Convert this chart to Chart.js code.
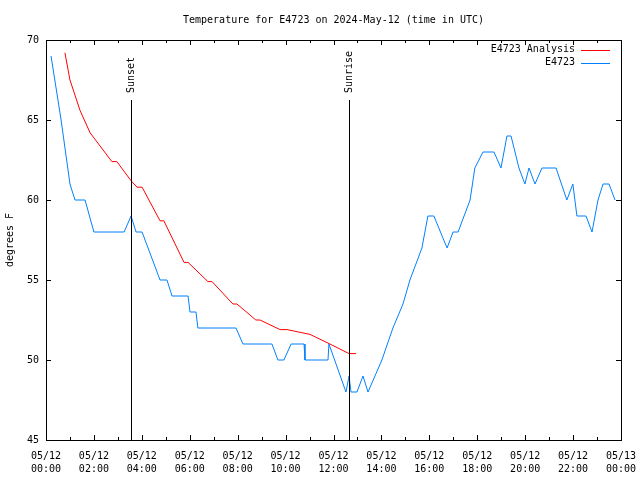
<!DOCTYPE html>
<html>
<head>
<meta charset="utf-8">
<title>Temperature for E4723</title>
<script src="https://cdn.jsdelivr.net/npm/chart.js@4/dist/chart.umd.min.js"></script>
<style>
  html, body { margin: 0; padding: 0; background: #fff; }
  #wrap { width: 640px; height: 480px; }
</style>
</head>
<body>
<div id="wrap"><canvas id="chart" width="640" height="480"></canvas></div>
<script>
/* ---------- data (hours after 05/12 00:00 UTC, degrees F) ---------- */
const obsHours = [0.21, 0.63, 1.00, 1.21, 1.63, 2.00, 3.26, 3.55, 3.76, 4.01,
  4.76, 5.05, 5.26, 5.93, 6.01, 6.26, 6.34, 7.93, 8.22, 9.43,
  9.68, 9.93, 10.23, 10.77, 10.81, 11.77, 11.81, 12.52, 12.65, 12.73,
  12.98, 13.23, 13.44, 14.02, 14.48, 14.90, 15.19, 15.69, 15.94, 16.19,
  16.74, 16.99, 17.20, 17.70, 17.90, 18.24, 18.70, 18.99, 19.24, 19.41,
  19.74, 19.99, 20.16, 20.41, 20.70, 21.29, 21.74, 21.99, 22.16, 22.54,
  22.79, 23.04, 23.25, 23.50, 23.75];
const obsTemps = [69, 65, 61, 60, 60, 58, 58, 59, 58, 58,
  55, 55, 54, 54, 53, 53, 52, 52, 51, 51,
  50, 50, 51, 51, 50, 50, 51, 48, 49, 48,
  48, 49, 48, 50, 52, 53.5, 55, 57, 59, 59,
  57, 58, 58, 60, 62, 63, 63, 62, 64, 64,
  62, 61, 62, 61, 62, 62, 60, 61, 59, 59,
  58, 60, 61, 61, 60];

const anaHours = [0.79, 1.00, 1.42, 1.84, 2.75, 2.96, 3.55, 3.80, 4.01, 4.76,
  4.92, 5.76, 5.93, 6.76, 6.93, 7.80, 7.97, 8.76, 8.93, 9.77,
  10.06, 11.02, 11.85, 12.65, 12.94];
const anaTemps = [69.2, 67.5, 65.6, 64.2, 62.4, 62.4, 61.2, 60.8, 60.8, 58.7,
  58.7, 56.1, 56.1, 54.9, 54.9, 53.5, 53.5, 52.5, 52.5, 51.9,
  51.9, 51.6, 51.0, 50.4, 50.4];

const sunEvents = ['Sunset', 'Sunrise'];
const sunHours = [3.55, 12.65];

const seriesNames = ['E4723 Analysis', 'E4723'];
const seriesColors = ['#ff0000', '#0080ff'];

const yMin = 45, yMax = 70, yStep = 5;
const xMin = 0, xMax = 24;

const FONT = '10px "DejaVu Sans Mono", monospace';
const pad2 = n => String(n).padStart(2, '0');

function toPoints(xs, ys) {
  return xs.map((x, i) => ({ x: x, y: ys[i] }));
}

/* ---------- gnuplot-ish frame: border, inward tics, sun markers, key, title ---------- */
const framePlugin = {
  id: 'frame',
  afterDatasetsDraw(chart) {
    const { ctx, chartArea: a, scales: { x, y } } = chart;
    ctx.save();
    ctx.strokeStyle = '#000';
    ctx.lineWidth = 1;

    // border
    ctx.strokeRect(a.left + 0.5, a.top + 0.5, a.right - a.left, a.bottom - a.top);

    // x tics every hour, bottom and top
    ctx.beginPath();
    for (let h = xMin + 1; h < xMax; h++) {
      const px = Math.round(x.getPixelForValue(h)) + 0.5;
      const len = h % 2 === 0 ? 5 : 3;
      ctx.moveTo(px, a.bottom); ctx.lineTo(px, a.bottom - len);
      ctx.moveTo(px, a.top); ctx.lineTo(px, a.top + len);
    }
    // y tics, left and right
    for (let v = yMin + yStep; v < yMax; v += yStep) {
      const py = Math.round(y.getPixelForValue(v)) + 0.5;
      ctx.moveTo(a.left, py); ctx.lineTo(a.left + 5, py);
      ctx.moveTo(a.right, py); ctx.lineTo(a.right - 5, py);
    }
    ctx.stroke();

    // sunset / sunrise markers (up to 85% of the graph height)
    ctx.font = FONT;
    ctx.fillStyle = '#000';
    const topY = a.bottom - 0.85 * (a.bottom - a.top);
    sunEvents.forEach((name, i) => {
      const px = Math.round(x.getPixelForValue(sunHours[i])) + 0.5;
      ctx.beginPath();
      ctx.moveTo(px, a.bottom);
      ctx.lineTo(px, topY);
      ctx.stroke();
      ctx.save();
      ctx.translate(px, topY - 7);
      ctx.rotate(-Math.PI / 2);
      ctx.textAlign = 'left';
      ctx.textBaseline = 'middle';
      ctx.fillText(name, 0, 0);
      ctx.restore();
    });

    // key, top right
    ctx.textAlign = 'right';
    ctx.textBaseline = 'middle';
    seriesNames.forEach((name, i) => {
      const ky = a.top + 9.5 + i * 13;
      ctx.fillStyle = '#000';
      ctx.fillText(name, a.right - 46, ky);
      ctx.strokeStyle = seriesColors[i];
      ctx.beginPath();
      ctx.moveTo(a.right - 40, Math.round(ky) + 0.5);
      ctx.lineTo(a.right - 11, Math.round(ky) + 0.5);
      ctx.stroke();
    });

    // title
    ctx.fillStyle = '#000';
    ctx.textAlign = 'center';
    ctx.fillText('Temperature for E4723 on 2024-May-12 (time in UTC)', (a.left + a.right) / 2, 20);
    ctx.restore();
  }
};

new Chart(document.getElementById('chart'), {
  type: 'line',
  data: {
    datasets: [
      {
        label: seriesNames[0],
        data: toPoints(anaHours, anaTemps),
        borderColor: seriesColors[0],
        borderWidth: 1,
        pointRadius: 0,
        tension: 0
      },
      {
        label: seriesNames[1],
        data: toPoints(obsHours, obsTemps),
        borderColor: seriesColors[1],
        borderWidth: 1,
        pointRadius: 0,
        tension: 0
      }
    ]
  },
  options: {
    responsive: false,
    animation: false,
    events: [],
    layout: { padding: { top: 40, right: 19, left: 0, bottom: 0 } },
    plugins: {
      legend: { display: false },
      title: { display: false },
      tooltip: { enabled: false }
    },
    scales: {
      x: {
        type: 'linear',
        min: xMin,
        max: xMax,
        grid: { display: false, drawTicks: false },
        border: { display: false },
        ticks: {
          stepSize: 2,
          autoSkip: false,
          maxRotation: 0,
          padding: 10,
          color: '#000',
          font: { family: '"DejaVu Sans Mono", monospace', size: 10, lineHeight: 1.3 },
          callback: v => [v >= 24 ? '05/13' : '05/12', pad2(v % 24) + ':00']
        },
        afterFit(scale) {
          scale.height = 40;
          // keep the plot box fixed; end labels may overhang the padding
          scale.paddingLeft = 0;
          scale.paddingRight = 0;
        }
      },
      y: {
        min: yMin,
        max: yMax,
        grid: { display: false, drawTicks: false },
        border: { display: false },
        ticks: {
          stepSize: yStep,
          padding: 7,
          color: '#000',
          font: { family: '"DejaVu Sans Mono", monospace', size: 10 }
        },
        title: {
          display: true,
          text: 'degrees F',
          color: '#000',
          padding: { top: 4, bottom: 0 },
          font: { family: '"DejaVu Sans Mono", monospace', size: 10 }
        },
        afterFit(scale) { scale.width = 46; }
      }
    }
  },
  plugins: [framePlugin]
});
</script>
</body>
</html>
